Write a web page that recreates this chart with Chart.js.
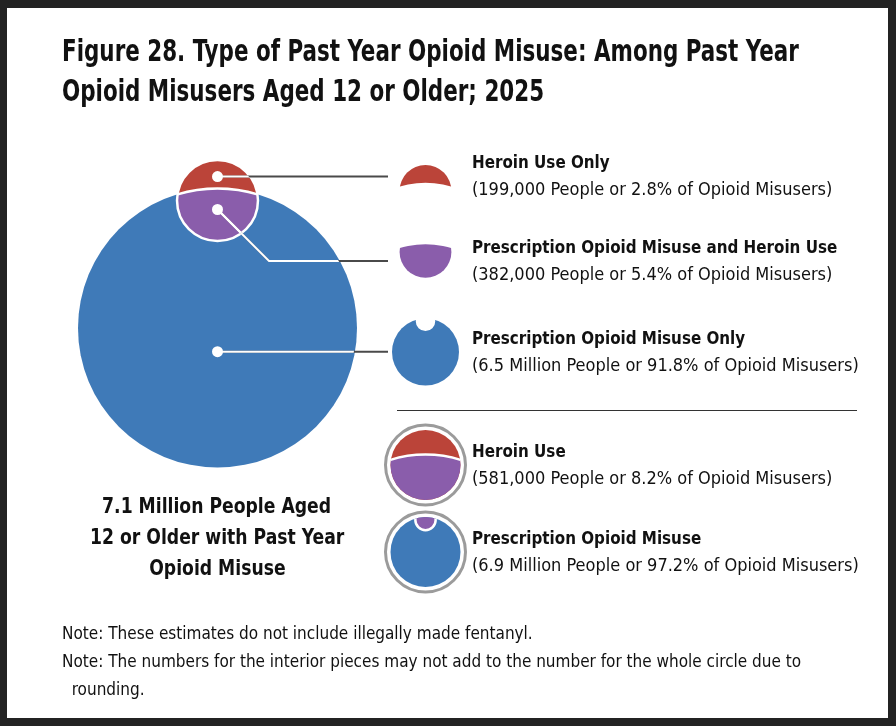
<!DOCTYPE html>
<html>
<head>
<meta charset="utf-8">
<script src="https://cdn.jsdelivr.net/npm/chart.js@4.4.0/dist/chart.umd.min.js"></script>
<style>
  html, body { margin: 0; padding: 0; background: #232323; }
  body { width: 896px; height: 726px; position: relative; overflow: hidden; }
  #paper { position: absolute; left: 7px; top: 8px; width: 881px; height: 710px; background: #fff; }
  #chartBox { position: absolute; left: 0; top: 0; width: 896px; height: 726px; }
  #venn { width: 896px; height: 726px; }
  .t { position: absolute; color: #111; white-space: nowrap;
       font-family: "Liberation Sans Narrow", "DejaVu Sans Condensed", "Roboto Condensed", sans-serif; }
  .sq { display: inline-block; transform-origin: left center; }
  #title { left: 62px; top: 31px; font-size: 30px; line-height: 40px; font-weight: bold; }
  #title .sq { transform: scaleX(0.795); }
  #total { left: 67px; width: 300px; top: 490px; font-size: 22px; line-height: 31px; font-weight: bold; text-align: center; }
  #total .sq { transform: scaleX(0.87); transform-origin: center center; }
  .row { left: 472px; font-size: 18px; line-height: 27px; }
  .row b { display: inline-block; font-size: 18.5px; transform: scaleX(0.91); transform-origin: left center; }
  #notes { left: 62px; top: 619px; font-size: 17px; line-height: 28px; }
  #rule { position: absolute; left: 397px; top: 410px; width: 460px; height: 1px; background: #333; }
</style>
</head>
<body>
<div id="paper"></div>
<div id="chartBox"><canvas id="venn" width="896" height="726"></canvas></div>
<div id="rule"></div>
<div id="title" class="t"></div>
<div id="total" class="t"></div>
<div id="legendRows"></div>
<div id="notes" class="t"></div>

<script>
// Datos
const titleLines = ['Figure 28. Type of Past Year Opioid Misuse: Among Past Year', 'Opioid Misusers Aged 12 or Older; 2025'];
const segmentNames = ['Heroin Use Only', 'Prescription Opioid Misuse and Heroin Use', 'Prescription Opioid Misuse Only'];
const segmentPeople = [199000, 382000, 6500000];
const segmentPeopleText = ['199,000', '382,000', '6.5 Million'];
const segmentPercent = [2.8, 5.4, 91.8];
const setNames = ['Heroin Use', 'Prescription Opioid Misuse'];
const setPeople = [581000, 6900000];
const setPeopleText = ['581,000', '6.9 Million'];
const setPercent = [8.2, 97.2];
const totalText = ['7.1 Million People Aged', '12 or Older with Past Year', 'Opioid Misuse'];
const notes = [
  'Note: These estimates do not include illegally made fentanyl.',
  'Note: The numbers for the interior pieces may not add to the number for the whole circle due to',
  '\u00a0\u00a0rounding.'
];

const RED = '#bb4439';
const PURPLE = '#8a5dab';
const BLUE = '#3f7ab8';
const LEADER = '#4a4a4a';
const RING = '#9b9b9b';

// Geometría: área del círculo proporcional a las personas
const R = Math.sqrt(setPeople[1] / Math.PI);
const r = Math.sqrt(setPeople[0] / Math.PI);

function lensArea(d, r1, r2) {
  if (d >= r1 + r2) return 0;
  if (d <= Math.abs(r1 - r2)) return Math.PI * Math.min(r1, r2) ** 2;
  const a = r1 * r1 * Math.acos((d * d + r1 * r1 - r2 * r2) / (2 * d * r1));
  const b = r2 * r2 * Math.acos((d * d + r2 * r2 - r1 * r1) / (2 * d * r2));
  const c = 0.5 * Math.sqrt((-d + r1 + r2) * (d + r1 - r2) * (d - r1 + r2) * (d + r1 + r2));
  return a + b - c;
}

// Distancia entre centros para que la intersección sea 382,000
let lo = R - r, hi = R + r;
for (let i = 0; i < 60; i++) {
  const mid = (lo + hi) / 2;
  if (lensArea(mid, R, r) > segmentPeople[1]) lo = mid; else hi = mid;
}
const d = (lo + hi) / 2;
const chordY = (R * R - r * r + d * d) / (2 * d);

// Layout
const W = 896, H = 726;
const bigPx = 139.5;
const k = bigPx / R;
const origin = { x: 217.5, y: 328 };
const rowY = [176, 261, 352, 465, 552];
const lineEndX = 388;

// Textos
const wrapLines = lines => lines.map(l => `<span class="sq">${l}</span>`).join('<br>');
document.getElementById('title').innerHTML = wrapLines(titleLines);
document.getElementById('total').innerHTML = wrapLines(totalText);
document.getElementById('notes').innerHTML = notes.join('<br>');

const rows = [
  ...segmentNames.map((n, i) => ({ name: n, people: segmentPeopleText[i], pct: segmentPercent[i] })),
  ...setNames.map((n, i) => ({ name: n, people: setPeopleText[i], pct: setPercent[i] }))
];
document.getElementById('legendRows').innerHTML = rows.map((row, i) => `
  <div class="t row" style="top:${rowY[i] - 28}px">
    <b>${row.name}</b><br>(${row.people} People or ${row.pct}% of Opioid Misusers)
  </div>`).join('');

// Puntos blancos donde nacen las guías
const dotX = [0, 0, 0];
const dotY = [R + 0.42 * (d + r - R), R - 0.4 * (R - (d - r)), -0.17 * R];

function circlePath(ctx, x, y, rad) {
  ctx.beginPath();
  ctx.arc(x, y, rad, 0, Math.PI * 2);
}

function fillCircle(ctx, x, y, rad, color) {
  circlePath(ctx, x, y, rad);
  ctx.fillStyle = color;
  ctx.fill();
}

function strokeCircle(ctx, x, y, rad, color, lw) {
  circlePath(ctx, x, y, rad);
  ctx.strokeStyle = color;
  ctx.lineWidth = lw;
  ctx.stroke();
}

// Dibuja el diagrama o un trozo; (bx, by) centro del círculo grande, s = px por unidad
function drawVenn(ctx, bx, by, s, mode) {
  const bR = R * s, sR = r * s, sx = bx, sy = by - d * s;
  ctx.save();
  if (mode === 'full') {
    fillCircle(ctx, bx, by, bR, BLUE);
    fillCircle(ctx, sx, sy, sR, RED);
    ctx.save(); circlePath(ctx, sx, sy, sR); ctx.clip();
    fillCircle(ctx, bx, by, bR, PURPLE);
    strokeCircle(ctx, bx, by, bR, '#fff', 2.5);
    ctx.restore();
    strokeCircle(ctx, sx, sy, sR, '#fff', 2.5);
  } else if (mode === 'heroinOnly') {
    // solo la parte del círculo pequeño fuera del grande
    ctx.beginPath();
    ctx.rect(0, 0, W, H);
    ctx.arc(bx, by, bR + 0.5, 0, Math.PI * 2);
    ctx.clip('evenodd');
    fillCircle(ctx, sx, sy, sR, RED);
  } else if (mode === 'both') {
    circlePath(ctx, sx, sy, sR); ctx.clip();
    fillCircle(ctx, bx, by, bR, PURPLE);
  } else if (mode === 'rxOnly') {
    ctx.beginPath();
    ctx.rect(0, 0, W, H);
    ctx.arc(sx, sy, sR, 0, Math.PI * 2);
    ctx.clip('evenodd');
    fillCircle(ctx, bx, by, bR, BLUE);
  } else if (mode === 'heroinSet') {
    fillCircle(ctx, sx, sy, sR, RED);
    circlePath(ctx, sx, sy, sR); ctx.clip();
    fillCircle(ctx, bx, by, bR, PURPLE);
    strokeCircle(ctx, bx, by, bR, '#fff', 2.5);
  } else if (mode === 'rxSet') {
    fillCircle(ctx, bx, by, bR, BLUE);
    circlePath(ctx, bx, by, bR); ctx.clip();
    fillCircle(ctx, sx, sy, sR, PURPLE);
    strokeCircle(ctx, sx, sy, sR, '#fff', 2.5);
  }
  ctx.restore();
}

const vennPlugin = {
  id: 'venn',
  beforeDatasetsDraw(chart) {
    const { ctx, scales: { x, y } } = chart;
    const bx = x.getPixelForValue(0), by = y.getPixelForValue(0);
    const s = (x.getPixelForValue(R) - bx) / R;
    const sy = y.getPixelForValue(d);

    drawVenn(ctx, bx, by, s, 'full');

    // Guías: gris fuera de los círculos, blanco dentro
    const px = dotX.map(v => x.getPixelForValue(v));
    const py = dotY.map(v => y.getPixelForValue(v));
    const paths = [
      [[px[0], py[0]], [lineEndX, py[0]]],
      [[px[1], py[1]], [px[1] + (rowY[1] - py[1]), rowY[1]], [lineEndX, rowY[1]]],
      [[px[2], py[2]], [lineEndX, py[2]]]
    ];
    const strokePaths = (color) => {
      ctx.strokeStyle = color;
      ctx.lineWidth = 2;
      paths.forEach(p => {
        ctx.beginPath();
        p.forEach((pt, i) => i ? ctx.lineTo(pt[0], pt[1]) : ctx.moveTo(pt[0], pt[1]));
        ctx.stroke();
      });
    };
    strokePaths(LEADER);
    [[bx, by, R * s], [bx, sy, r * s]].forEach(([cx, cy, rad]) => {
      ctx.save();
      circlePath(ctx, cx, cy, rad - 1);
      ctx.clip();
      strokePaths('#fff');
      ctx.restore();
    });

    // Iconos de la leyenda
    const iconX = 425.5;
    const s1 = s * 0.64;
    drawVenn(ctx, iconX, rowY[0] + (d + r + chordY) / 2 * s1, s1, 'heroinOnly');
    drawVenn(ctx, iconX, rowY[1] + (R + d - r) / 2 * s1, s1, 'both');
    const s3 = 33.5 / R;
    drawVenn(ctx, iconX, rowY[2], s3, 'rxOnly');
    const s4 = 35 / r;
    drawVenn(ctx, iconX, rowY[3] + d * s4, s4, 'heroinSet');
    strokeCircle(ctx, iconX, rowY[3], 40, RING, 3);
    const s5 = 35 / R;
    drawVenn(ctx, iconX, rowY[4], s5, 'rxSet');
    strokeCircle(ctx, iconX, rowY[4], 40, RING, 3);
  }
};

new Chart(document.getElementById('venn').getContext('2d'), {
  type: 'scatter',
  data: {
    datasets: [{
      label: 'Segments',
      data: dotX.map((v, i) => ({ x: v, y: dotY[i] })),
      pointRadius: 5.5,
      pointHoverRadius: 5.5,
      pointBackgroundColor: '#fff',
      pointBorderWidth: 0
    }]
  },
  options: {
    responsive: false,
    animation: false,
    layout: { padding: 0, autoPadding: false },
    plugins: { legend: { display: false }, tooltip: { enabled: false } },
    scales: {
      x: { type: 'linear', display: false, min: -origin.x / k, max: (W - origin.x) / k },
      y: { type: 'linear', display: false, min: -(H - origin.y) / k, max: origin.y / k }
    }
  },
  plugins: [vennPlugin]
});
</script>
</body>
</html>
